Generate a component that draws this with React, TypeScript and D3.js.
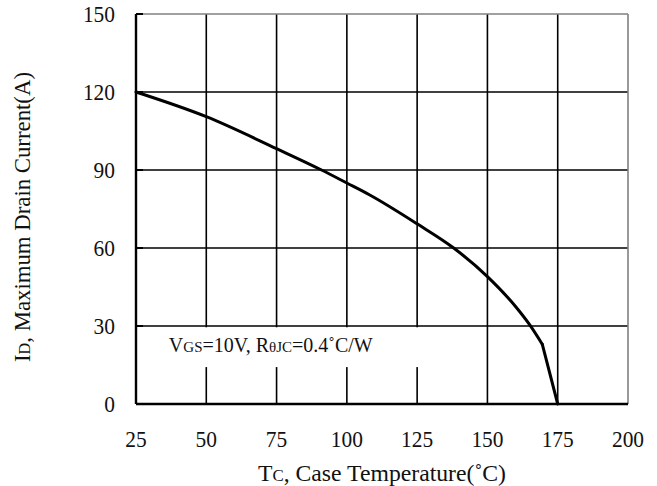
import { useRef, useEffect } from 'react';
import * as d3 from 'd3';

const temps = [25, 50, 75, 91, 100, 108, 125, 138, 150, 160, 165, 169.5, 175];
const currents = [120, 110.5, 98.2, 90, 85, 80.5, 69.3, 60, 49, 37.5, 30.5, 23, 0];
const xTicks = [25, 50, 75, 100, 125, 150, 175, 200];
const yTicks = [0, 30, 60, 90, 120, 150];

export default function App() {
  const ref = useRef<SVGSVGElement>(null);

  useEffect(() => {
    const svg = d3.select(ref.current);
    svg.selectAll('*').remove();
    const W = 657, H = 486;
    const m = { top: 14, right: 29, bottom: 82, left: 136 };
    const font = '"Liberation Serif", "Times New Roman", serif';

    const x = d3.scaleLinear().domain([25, 200]).range([m.left, W - m.right]);
    const y = d3.scaleLinear().domain([0, 150]).range([H - m.bottom, m.top]);

    svg.append('rect').attr('width', W).attr('height', H).attr('fill', '#fff');

    const g = svg.append('g');

    // grid
    g.selectAll('line.vx').data(xTicks.slice(1, -1)).enter().append('line')
      .attr('x1', d => x(d)).attr('x2', d => x(d))
      .attr('y1', y(150)).attr('y2', y(0))
      .attr('stroke', '#000').attr('stroke-width', 1.6);
    g.selectAll('line.hy').data(yTicks.slice(1, -1)).enter().append('line')
      .attr('x1', x(25)).attr('x2', x(200))
      .attr('y1', d => y(d)).attr('y2', d => y(d))
      .attr('stroke', '#000').attr('stroke-width', 1.6);

    // top & right frame (gray)
    g.append('line').attr('x1', x(25)).attr('x2', x(200)).attr('y1', y(150)).attr('y2', y(150))
      .attr('stroke', '#808080').attr('stroke-width', 1.6);
    g.append('line').attr('x1', x(200)).attr('x2', x(200)).attr('y1', y(150)).attr('y2', y(0))
      .attr('stroke', '#808080').attr('stroke-width', 1.6);

    // annotation box covering grid
    const bx0 = x(34.2), bx1 = x(130), by0 = y(29.5), by1 = y(14.2);
    g.append('rect').attr('x', bx0).attr('y', by0).attr('width', bx1 - bx0).attr('height', by1 - by0)
      .attr('fill', '#fff');

    // left & bottom axes
    g.append('line').attr('x1', x(25)).attr('x2', x(25)).attr('y1', y(150)).attr('y2', y(0))
      .attr('stroke', '#000').attr('stroke-width', 2.4);
    g.append('line').attr('x1', x(25)).attr('x2', x(200)).attr('y1', y(0)).attr('y2', y(0))
      .attr('stroke', '#000').attr('stroke-width', 2.4);
    g.selectAll('line.tk').data(yTicks).enter().append('line')
      .attr('x1', x(25)).attr('x2', x(25) + 7)
      .attr('y1', d => y(d)).attr('y2', d => y(d))
      .attr('stroke', '#000').attr('stroke-width', 2);

    // curve: smooth part, then the straight drop to 175
    const pts: [number, number][] = temps.map((t, i) => [t, currents[i]]);
    const smooth = d3.line<[number, number]>().x(d => x(d[0])).y(d => y(d[1])).curve(d3.curveMonotoneX);
    const straight = d3.line<[number, number]>().x(d => x(d[0])).y(d => y(d[1]));
    g.append('path').attr('d', smooth(pts.slice(0, -1)) || '')
      .attr('fill', 'none').attr('stroke', '#000').attr('stroke-width', 3)
      .attr('stroke-linejoin', 'round').attr('stroke-linecap', 'round');
    g.append('path').attr('d', straight(pts.slice(-2)) || '')
      .attr('fill', 'none').attr('stroke', '#000').attr('stroke-width', 3)
      .attr('stroke-linecap', 'round');

    // tick labels
    g.selectAll('text.yl').data(yTicks).enter().append('text')
      .attr('x', x(25) - 21).attr('y', d => y(d) + 8)
      .attr('text-anchor', 'end')
      .style('font-family', font).style('font-size', '24px').attr('fill', '#111')
      .attr('textLength', d => String(d).length * 10.7).attr('lengthAdjust', 'spacingAndGlyphs')
      .text(d => d);
    g.selectAll('text.xl').data(xTicks).enter().append('text')
      .attr('x', d => x(d)).attr('y', y(0) + 43)
      .attr('text-anchor', 'middle')
      .style('font-family', font).style('font-size', '24px').attr('fill', '#111')
      .attr('textLength', d => String(d).length * 10.7).attr('lengthAdjust', 'spacingAndGlyphs')
      .text(d => d);

    // annotation text
    const at = g.append('text').attr('x', bx0 + 7).attr('y', y(0) - 52)
      .style('font-family', font).style('font-size', '20px').attr('fill', '#111');
    at.append('tspan').text('V');
    at.append('tspan').style('font-size', '15px').text('GS');
    at.append('tspan').text('=10V, R');
    at.append('tspan').style('font-size', '15px').text('θJC');
    at.append('tspan').text('=0.4˚C/W');

    // x title
    const xt = g.append('text').attr('x', (x(25) + x(200)) / 2).attr('y', H - 5)
      .attr('text-anchor', 'middle')
      .style('font-family', font).style('font-size', '24px').attr('fill', '#111')
      .attr('textLength', 248).attr('lengthAdjust', 'spacingAndGlyphs');
    xt.append('tspan').text('T');
    xt.append('tspan').style('font-size', '17px').text('C');
    xt.append('tspan').text(', Case Temperature(˚C)');

    // y title
    const yt = g.append('text')
      .attr('transform', `translate(30,${(72 + 362) / 2}) rotate(-90)`)
      .attr('text-anchor', 'middle')
      .style('font-family', font).style('font-size', '24px').attr('fill', '#111')
      .attr('textLength', 290).attr('lengthAdjust', 'spacingAndGlyphs');
    yt.append('tspan').text('I');
    yt.append('tspan').style('font-size', '17px').text('D');
    yt.append('tspan').text(', Maximum Drain Current(A)');
  }, []);

  return (
    <svg ref={ref} width={657} height={486}
      style={{ position: 'absolute', left: 0, top: 0, display: 'block' }} />
  );
}
